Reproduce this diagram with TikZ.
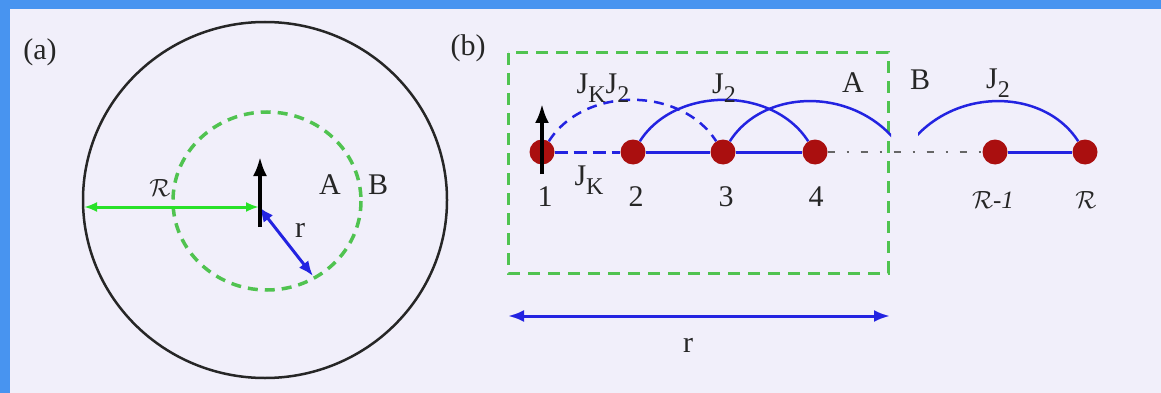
\documentclass[tikz,border=0pt]{standalone}
\usepackage{fontspec}
\setmainfont{Liberation Serif}
\usetikzlibrary{arrows.meta}

\definecolor{bgpaper}{RGB}{241,239,250}
\definecolor{framebar}{RGB}{72,148,240}
\definecolor{chainblue}{RGB}{35,35,225}
\definecolor{boxgreen}{RGB}{80,195,80}
\definecolor{radgreen}{RGB}{40,225,40}
\definecolor{sitered}{RGB}{170,15,15}
\newcommand{\lowsub}[1]{\raisebox{-0.3em}{\fontsize{24}{25}\selectfont #1}}

\begin{document}
\begin{tikzpicture}[x=1pt,y=-1pt,
  lbl/.style={font=\fontsize{30}{32}\selectfont,inner sep=0pt,text=black!85},
  smalllbl/.style={font=\fontsize{25}{27}\selectfont,inner sep=0pt,text=black!85},
  site/.style={circle,fill=sitered,minimum size=25pt,inner sep=0pt},
  bond/.style={draw=chainblue,line width=3pt},
  hop/.style={draw=chainblue,line width=2.5pt},
  spin/.style={draw=black,line width=3.5pt,-{Latex[length=19pt,width=14pt]}},
  region/.style={draw=boxgreen,line width=3pt,dash pattern=on 12pt off 8pt}]
  % background and frame
  \fill[bgpaper] (0,0) rectangle (1161,393);
  \fill[framebar] (0,0) rectangle (1161,9);
  \fill[framebar] (0,0) rectangle (10,393);
  \useasboundingbox (0,0) rectangle (1161,393);

  % (a) disc
  \node[lbl] (pa) at (40,52) {(a)};
  \draw[black!85,line width=2.5pt] (265,200) ellipse[x radius=182,y radius=178];
  \draw[region,line width=3.5pt,dash pattern=on 10pt off 7pt] (267,201) ellipse[x radius=94,y radius=89];
  \coordinate (rim) at (84,207);
  \coordinate (ctr) at (259,207);
  \coordinate (edge) at (313,276);
  \coordinate (spinlo) at (260,227);
  \coordinate (spinhi) at (260,157);
  \draw[radgreen,line width=3pt,{Latex[length=13pt,width=10pt]}-{Latex[length=13pt,width=10pt]}] (rim) -- (ctr);
  \draw[chainblue,line width=3pt,{Latex[length=15pt,width=12pt]}-{Latex[length=15pt,width=12pt]}] (ctr) -- (edge);
  \draw[spin] (spinlo) -- (spinhi);
  \node[lbl] (Ra) at (160,188) {$\mathcal{R}$};
  \node[lbl] (ra) at (300,230) {r};
  \node[lbl] (Aa) at (330,185) {A};
  \node[lbl] (Ba) at (378,185) {B};

  % (b) chain
  \node[lbl] (pb) at (468,48) {(b)};
  \draw[region] (508,53) rectangle (888,273);
  \foreach \i/\x in {1/542,2/633,3/723,4/815}
    \node[site] (s\i) at (\x,152) {};
  \node[site] (sm) at (995,152) {};
  \node[site] (sR) at (1085,152) {};
  \coordinate (gap) at (904,152);

  \draw[bond,dash pattern=on 13pt off 6pt] (s1) -- (s2);
  \draw[bond] (s2) -- (s3) -- (s4);
  \draw[bond] (sm) -- (sR);
  \draw[black!60,line width=1.8pt,dash pattern=on 7pt off 12pt on 2pt off 12pt] (s4) -- (sm);

  % next-nearest hops
  \draw[hop,dash pattern=on 10pt off 7pt] (s1) .. controls +(42,-66) and +(-42,-66) .. (s3);
  \draw[hop] (s2) .. controls +(42,-66) and +(-42,-66) .. (s4);
  \begin{scope}
    \clip (500,0) rectangle (891,393);
    \draw[hop] (s3) .. controls +(42,-66) and +(-42,-66) .. (gap);
  \end{scope}
  \begin{scope}
    \clip (918,0) rectangle (1161,393);
    \draw[hop] (gap) .. controls +(42,-66) and +(-42,-66) .. (sR);
  \end{scope}

  \draw[spin] (542,174) -- (542,104);

  \node[lbl] (jkj) at (603,88) {J\lowsub{K}J\lowsub{2}};
  \node[lbl] (j2a) at (724,88) {J\lowsub{2}};
  \node[lbl] (Ab) at (853,83) {A};
  \node[lbl] (Bb) at (920,80) {B};
  \node[lbl] (j2b) at (998,83) {J\lowsub{2}};
  \node[lbl] (jk) at (589,180) {J\lowsub{K}};

  \node[lbl] (n1) at (545,197) {1};
  \node[lbl] (n2) at (636,197) {2};
  \node[lbl] (n3) at (726,197) {3};
  \node[lbl] (n4) at (816,197) {4};
  \node[smalllbl] (nm) at (993,200) {$\mathcal{R}$\textit{-1}};
  \node[smalllbl] (nR) at (1086,200) {$\mathcal{R}$};

  % width of region A
  \coordinate (rl) at (508,316);
  \coordinate (rr) at (890,316);
  \draw[chainblue,line width=3pt,{Latex[length=16pt,width=12pt]}-{Latex[length=16pt,width=12pt]}] (rl) -- (rr);
  \node[lbl] (rb) at (688,345) {r};
\end{tikzpicture}
\end{document}
